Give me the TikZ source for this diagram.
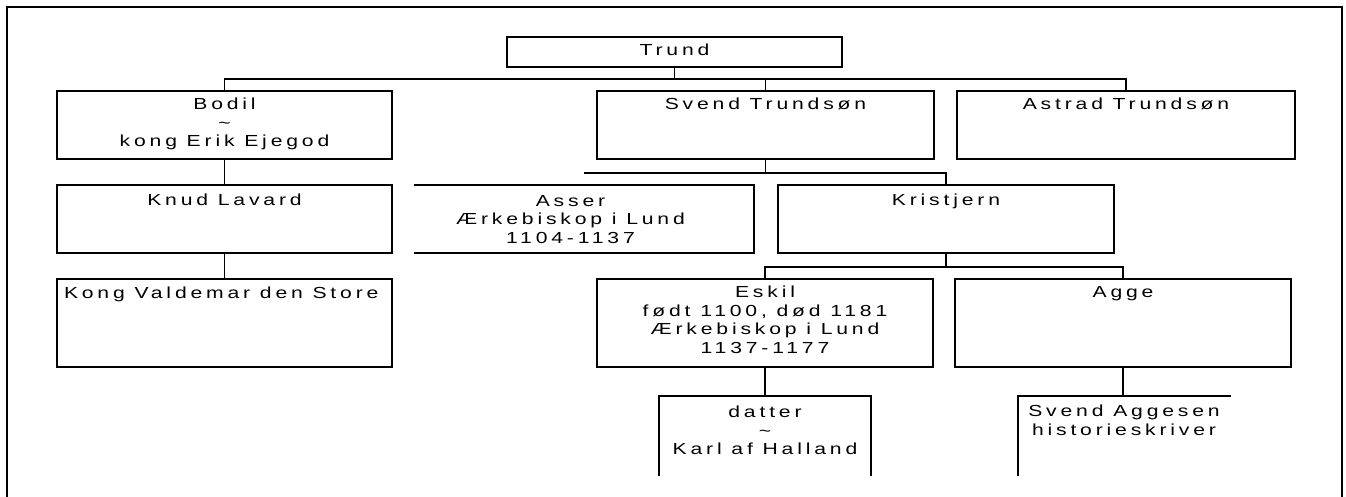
\documentclass[tikz,border=0pt]{standalone}
\usepackage{fontspec}
\setmainfont[FakeStretch=1.32,LetterSpace=24]{Liberation Sans}
\usetikzlibrary{calc,positioning}
\begin{document}
\begin{tikzpicture}[x=1pt,y=-1pt,
  famline/.style={line width=1.5pt, line cap=rect},
  fambox/.style={rectangle, draw, line width=1.5pt, inner sep=0pt, outer sep=0pt},
  famopen/.style={rectangle, inner sep=0pt, outer sep=0pt},
  lbl/.style={inner sep=0pt, outer sep=0pt, align=center, font=\fontsize{16}{18.5}\selectfont}]
\useasboundingbox (0,0) rectangle (1346,497);
\fill[white] (0,0) rectangle (1346,497);
% outer frame
\draw[famline] (7,510) -- (7,7) -- (1342,7) -- (1342,510);

% boxes
\node[fambox, minimum width=335pt, minimum height=30pt] (trund) at (674.5,52) {};
\node[fambox, minimum width=335pt, minimum height=68pt] (bodil) at (224.5,125) {};
\node[fambox, minimum width=337pt, minimum height=68pt] (svend) at (765.5,125) {};
\node[fambox, minimum width=338pt, minimum height=68pt] (astrad) at (1126,125) {};
\node[fambox, minimum width=335pt, minimum height=68pt] (knud) at (224.5,219) {};
\node[famopen, minimum width=339pt, minimum height=68pt] (asser) at (584.5,219) {};
\node[fambox, minimum width=336pt, minimum height=68pt] (kristjern) at (946,219) {};
\node[fambox, minimum width=335pt, minimum height=88pt] (valdemar) at (224.5,323) {};
\node[fambox, minimum width=336pt, minimum height=88pt] (eskil) at (765,323) {};
\node[fambox, minimum width=336pt, minimum height=88pt] (agge) at (1123,323) {};
\node[famopen, minimum width=212pt, minimum height=79pt] (datter) at (765,435.5) {};
\node[famopen, minimum width=212pt, minimum height=79pt] (svenda) at (1124,435.5) {};

% partial borders
\draw[famline] (asser.north west) -- (asser.north east) -- (asser.south east) -- (asser.south west);
\draw[famline] (datter.south west) -- (datter.north west) -- (datter.north east) -- (datter.south east);
\draw[famline] (svenda.south west) -- (svenda.north west) -- (svenda.north east);

% labels
\node[lbl, below=7pt of trund.north] (trundt) {Trund};
\node[lbl, below=7pt of bodil.north] (bodilt) {Bodil\\\textasciitilde\\kong Erik Ejegod};
\node[lbl, below=7pt of svend.north] (svendt) {Svend Trundsøn};
\node[lbl, below=7pt of astrad.north] (astradt) {Astrad Trundsøn};
\node[lbl, below=9pt of knud.north] (knudt) {Knud Lavard};
\node[lbl, below=10pt of asser.north, xshift=-14pt] (assert) {Asser\\Ærkebiskop i Lund\\1104-1137};
\node[lbl, below=9pt of kristjern.north] (kristjernt) {Kristjern};
\node[lbl, anchor=north west] (valdemart) at ($(valdemar.north west)+(7,8)$) {Kong Valdemar den Store};
\node[lbl, below=7pt of eskil.north] (eskilt) {Eskil\\født 1100, død 1181\\Ærkebiskop i Lund\\1137-1177};
\node[lbl, below=7pt of agge.north] (agget) {Agge};
\node[lbl, below=10pt of datter.north] (dattert) {datter\\\textasciitilde\\Karl af Halland};
\node[lbl, below=9pt of svenda.north] (svendat) {Svend Aggesen\\historieskriver};

% connectors
\draw[famline] (trund.south) -- +(0,12) -| (bodil.north);
\draw[famline] (trund.south) -- +(0,12) -| (svend.north);
\draw[famline] (trund.south) -- +(0,12) -| (astrad.north);
\draw[famline] (bodil.south) -- (knud.north);
\draw[famline] (knud.south) -- (valdemar.north);
\coordinate (sj) at ($(svend.south)+(0,14)$);
\draw[famline] (svend.south) -- (sj) -| (kristjern.north);
\draw[famline] (sj) -- (sj -| asser.north);
\draw[famline] (kristjern.south) -- +(0,14) -| (eskil.north);
\draw[famline] (kristjern.south) -- +(0,14) -| (agge.north);
\draw[famline] (eskil.south) -- (datter.north);
\draw[famline] (agge.south) -- (agge.south |- svenda.north);
\end{tikzpicture}
\end{document}
